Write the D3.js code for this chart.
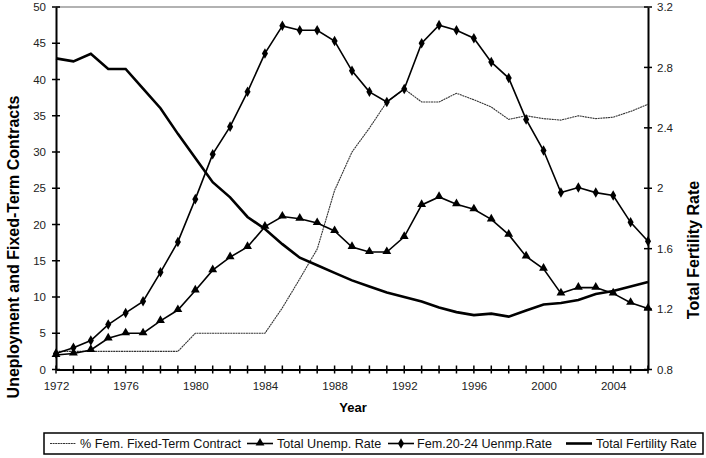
<!DOCTYPE html>
<html><head><meta charset="utf-8">
<script src="https://cdn.jsdelivr.net/npm/d3@7"></script>
<style>body{margin:0;background:#fff}svg{display:block;font-family:"Liberation Sans",Arial,sans-serif}</style>
</head><body><svg id="c" width="706" height="458"></svg>
<script>
const years = d3.range(1972, 2007);
const fixedTerm = [2.5,2.5,2.5,2.5,2.5,2.5,2.5,2.5,5,5,5,5,5,8.5,12.5,16.6,24.7,30.0,33.3,36.9,38.7,36.9,36.9,38.1,37.2,36.2,34.5,35.0,34.6,34.4,35.0,34.6,34.8,35.6,36.6];
const totalUnemp = [2.0,2.2,2.7,4.3,5.0,5.0,6.7,8.2,10.9,13.7,15.5,16.9,19.7,21.1,20.8,20.2,19.1,16.9,16.2,16.2,18.3,22.7,23.8,22.8,22.1,20.7,18.6,15.6,13.9,10.5,11.3,11.3,10.5,9.2,8.4];
const femUnemp = [2.2,3.0,4.0,6.2,7.8,9.4,13.4,17.6,23.5,29.7,33.5,38.3,43.6,47.4,46.8,46.8,45.3,41.2,38.3,36.9,38.7,45.0,47.5,46.8,45.7,42.4,40.2,34.5,30.2,24.4,25.1,24.4,24.0,20.3,17.7];
const fertility = [2.86,2.84,2.89,2.79,2.79,2.66,2.53,2.36,2.20,2.04,1.94,1.81,1.73,1.63,1.54,1.49,1.44,1.39,1.35,1.31,1.28,1.25,1.21,1.18,1.16,1.17,1.15,1.19,1.23,1.24,1.26,1.30,1.32,1.35,1.38];
const leftTicks = [0,5,10,15,20,25,30,35,40,45,50];
const rightTicks = [0.8,1.2,1.6,2.0,2.4,2.8,3.2];
const xLabelYears = [1972,1976,1980,1984,1988,1992,1996,2000,2004];
const legendLabels = ["% Fem. Fixed-Term Contract","Total Unemp. Rate","Fem.20-24 Uenmp.Rate","Total Fertility Rate"];

const svg = d3.select("#c");
const L = 56, R = 648, T = 7, B = 369.5;
const x = d3.scaleLinear().domain([1972, 2006]).range([L, R]);
const yL = d3.scaleLinear().domain([0, 50]).range([B, T]);
const yR = d3.scaleLinear().domain([0.8, 3.2]).range([B, T]);

svg.append("line").attr("x1", L).attr("x2", R).attr("y1", T).attr("y2", T).attr("stroke", "#999").attr("stroke-width", 1.5);

const axL = svg.append("g").attr("transform", `translate(${L},0)`)
  .call(d3.axisLeft(yL).tickValues(leftTicks).tickSize(0).tickPadding(10).tickFormat(d3.format("d")));
const axR = svg.append("g").attr("transform", `translate(${R},0)`)
  .call(d3.axisRight(yR).tickValues(rightTicks).tickSize(0).tickPadding(9).tickFormat(d => d === 2 ? "2" : d3.format(".1f")(d)));
const axB = svg.append("g").attr("transform", `translate(0,${B})`)
  .call(d3.axisBottom(x).tickValues(xLabelYears).tickSize(0).tickPadding(12).tickFormat(d3.format("d")));
[axL, axR, axB].forEach(g => {
  g.select(".domain").attr("stroke", "#000").attr("stroke-width", 2);
  g.selectAll("text").attr("font-size", 11.5).attr("fill", "#222").attr("font-family", "Liberation Sans, Arial, sans-serif");
});
svg.append("g").selectAll("line").data(leftTicks).join("line")
  .attr("x1", L - 4).attr("x2", L + 4).attr("y1", d => yL(d)).attr("y2", d => yL(d)).attr("stroke", "#000").attr("stroke-width", 1.5);
svg.append("g").selectAll("line").data(rightTicks).join("line")
  .attr("x1", R - 4).attr("x2", R + 4).attr("y1", d => yR(d)).attr("y2", d => yR(d)).attr("stroke", "#000").attr("stroke-width", 1.5);
svg.append("g").selectAll("line").data(years).join("line")
  .attr("x1", d => x(d)).attr("x2", d => x(d)).attr("y1", B - 4).attr("y2", B + 4).attr("stroke", "#000").attr("stroke-width", 1.5);

svg.append("text").attr("transform", "translate(19,247) rotate(-90)").attr("text-anchor", "middle")
  .attr("font-size", 16).attr("font-weight", "bold").text("Uneployment and Fixed-Term Contracts");
svg.append("text").attr("transform", "translate(699,250) rotate(-90)").attr("text-anchor", "middle")
  .attr("font-size", 16).attr("font-weight", "bold").text("Total Fertility Rate");
svg.append("text").attr("x", 353).attr("y", 412).attr("text-anchor", "middle")
  .attr("font-size", 13).attr("font-weight", "bold").text("Year");

const lineL = d3.line().x((d, i) => x(years[i])).y(d => yL(d));
const lineR = d3.line().x((d, i) => x(years[i])).y(d => yR(d));
svg.append("path").attr("d", lineL(fixedTerm)).attr("fill", "none").attr("stroke", "#333").attr("stroke-width", 1.1).attr("stroke-dasharray", "2,0.6");
svg.append("path").attr("d", lineR(fertility)).attr("fill", "none").attr("stroke", "#000").attr("stroke-width", 2.6);
svg.append("path").attr("d", lineL(totalUnemp)).attr("fill", "none").attr("stroke", "#000").attr("stroke-width", 1.6);
svg.append("path").attr("d", lineL(femUnemp)).attr("fill", "none").attr("stroke", "#000").attr("stroke-width", 1.6);
const tri = d3.symbol().type(d3.symbolTriangle).size(34);
const dia = d3.symbol().type(d3.symbolDiamond).size(32);
svg.append("g").selectAll("path").data(totalUnemp).join("path")
  .attr("transform", (d, i) => `translate(${x(years[i])},${yL(d) - 0.5})`).attr("d", tri).attr("fill", "#000");
svg.append("g").selectAll("path").data(femUnemp).join("path")
  .attr("transform", (d, i) => `translate(${x(years[i])},${yL(d)})`).attr("d", dia).attr("fill", "#000");

// legend
const lg = svg.append("g");
lg.append("rect").attr("x", 44).attr("y", 433).attr("width", 659).attr("height", 21).attr("fill", "#fff").attr("stroke", "#000").attr("stroke-width", 1.5);
const items = [
  {x0: 50, tx: 80, style: "dash", label: legendLabels[0]},
  {x0: 247, tx: 277, style: "tri", label: legendLabels[1]},
  {x0: 388, tx: 417, style: "dia", label: legendLabels[2]},
  {x0: 566, tx: 596, style: "thick", label: legendLabels[3]}
];
items.forEach(it => {
  const g = lg.append("g");
  const ly = 443.5;
  const ln = g.append("line").attr("x1", it.x0).attr("x2", it.x0 + 26).attr("y1", ly).attr("y2", ly).attr("stroke", "#000");
  if (it.style === "dash") ln.attr("stroke", "#333").attr("stroke-width", 1.1).attr("stroke-dasharray", "2,0.6");
  else if (it.style === "thick") ln.attr("stroke-width", 2.6);
  else ln.attr("stroke-width", 1.6);
  if (it.style === "tri") g.append("path").attr("transform", `translate(${it.x0 + 13},${ly - 0.5})`).attr("d", tri);
  if (it.style === "dia") g.append("path").attr("transform", `translate(${it.x0 + 13},${ly})`).attr("d", dia);
  g.append("text").attr("x", it.tx).attr("y", ly + 4.5).attr("font-size", 12.6).attr("fill", "#111").text(it.label);
});
</script></body></html>
